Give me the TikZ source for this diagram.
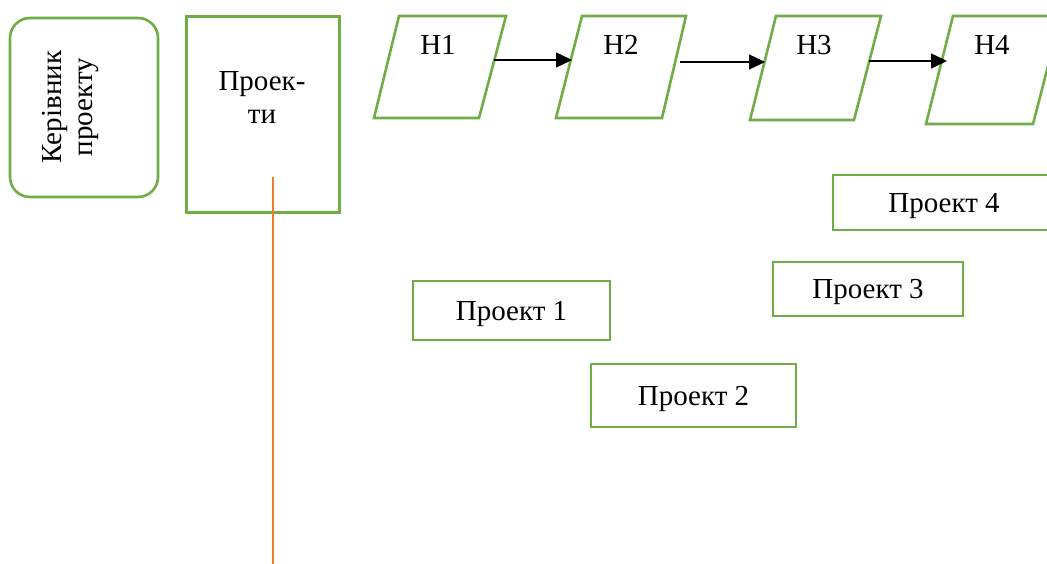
\documentclass[tikz,border=0pt]{standalone}
\usepackage{fontspec}
\setmainfont{Liberation Serif}
\usetikzlibrary{arrows.meta}
\definecolor{grn}{HTML}{70AD47}
\definecolor{org}{HTML}{ED7D31}
\tikzset{
  gbox/.style={draw=grn, line width=2.6pt, fill=white, inner sep=0pt},
  gline/.style={draw=grn, line width=2.6pt, line join=miter},
  pbox/.style={gbox, rectangle, font=\fontsize{29}{33}\selectfont, text depth=0pt},
  lbl/.style={inner sep=0pt, font=\fontsize{29}{33}\selectfont},
  arr/.style={draw=black, line width=1.4pt, -{Triangle[length=16pt,width=15pt]}}
}
\begin{document}
\begin{tikzpicture}[x=1pt,y=-1pt]
\useasboundingbox (0,0) rectangle (1047,564);
\clip (0,0) rectangle (1047,564);
\fill[white] (0,0) rectangle (1047,564);

% left boxes
\node[gbox, rectangle, rounded corners=20pt, minimum width=148pt, minimum height=179pt] (kp) at (84,107.5) {};
\node[lbl, rotate=90, align=center, font=\fontsize{29}{31}\selectfont] (kpt) at (71,107) {Керівник\\проекту};

\node[gbox, rectangle, minimum width=153pt, minimum height=196pt] (pr) at (263,114.5) {};
\node[lbl, align=center, anchor=north, font=\fontsize{29}{33}\selectfont] (prt) at (262,71) {Проек-\\ти};

\coordinate (linestart) at (273,177);
\coordinate (lineend) at (273,564);
\draw[org, line width=2pt] (linestart) -- (lineend);

% parallelograms
\draw[gline] (399,16) -- (506,16) -- (479,118) -- (374,118) -- cycle;
\draw[gline] (582,16) -- (686,16) -- (662,118) -- (556,118) -- cycle;
\draw[gline] (776,16) -- (881,16) -- (854,120) -- (750,120) -- cycle;
\draw[gline] (953,16) -- (1061,16) -- (1033,124) -- (926,124) -- cycle;
\node[lbl, anchor=base] (h1t) at (438,55) {Н1};
\node[lbl, anchor=base] (h2t) at (621,55) {Н2};
\node[lbl, anchor=base] (h3t) at (814,55) {Н3};
\node[lbl, anchor=base] (h4t) at (992,55) {Н4};

\coordinate (h1e) at (494,60);
\coordinate (h2w) at (572,60);
\coordinate (h2e) at (680,62);
\coordinate (h3w) at (765,62);
\coordinate (h3e) at (869,61);
\coordinate (h4w) at (947,61);
\draw[arr] (h1e) -- (h2w);
\draw[arr] (h2e) -- (h3w);
\draw[arr] (h3e) -- (h4w);

% project boxes
\node[pbox, minimum width=197pt, minimum height=59pt] (p1) at (511.5,310.5) {Проект 1};
\node[pbox, minimum width=205pt, minimum height=63pt] (p2) at (693.5,395.5) {Проект 2};
\node[pbox, minimum width=190pt, minimum height=54pt] (p3) at (868,289) {Проект 3};
\node[pbox, minimum width=222pt, minimum height=55pt] (p4) at (944,202.5) {Проект 4};
\end{tikzpicture}
\end{document}
